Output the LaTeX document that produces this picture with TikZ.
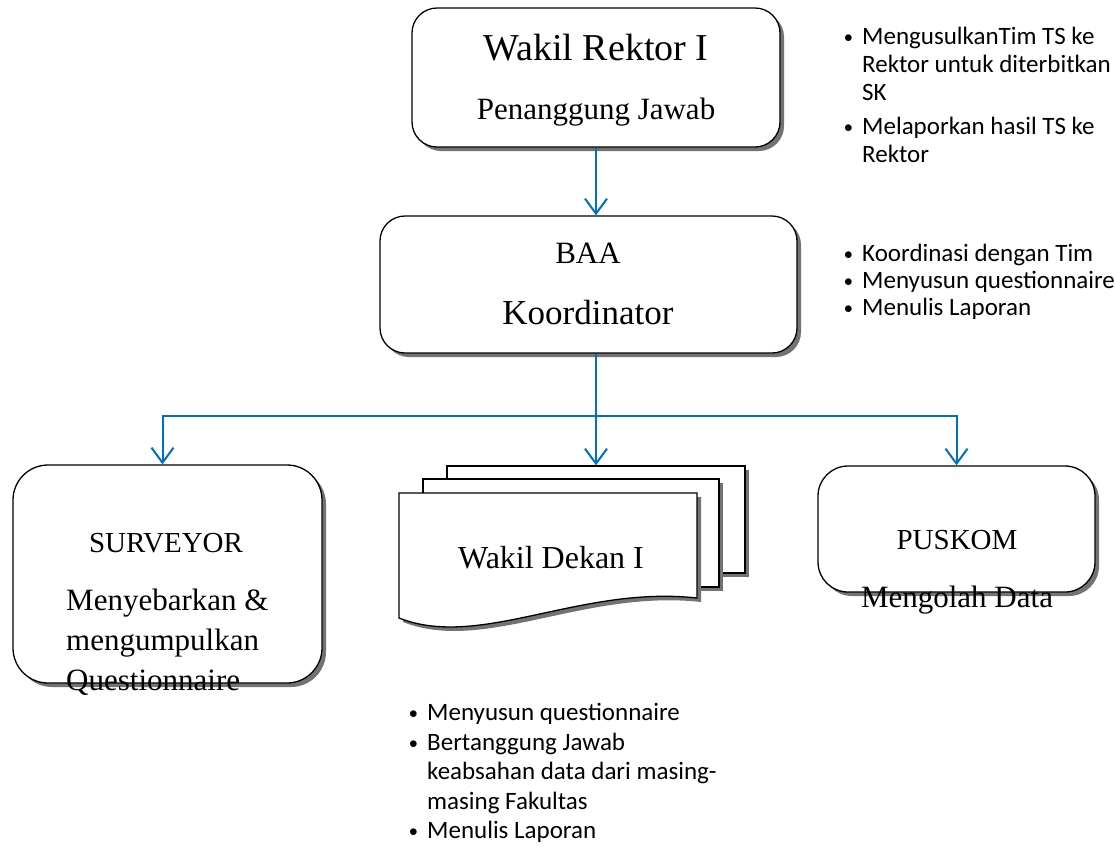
\documentclass[tikz,border=0pt]{standalone}
\usepackage{fontspec}
\setmainfont{Liberation Serif}
\newfontfamily\poinfont{Carlito}
\usetikzlibrary{arrows.meta,shadows}
\definecolor{Alur}{RGB}{0,112,192}
\tikzset{%
    Bayang/.style={%
        drop shadow={shadow xshift=4pt,shadow yshift=-4pt,
                     fill=black!55,opacity=1}
    },
    Kotak node/.style={%
        draw,
        line width=1.3pt,
        fill=white,
        rounded corners=#1,
        inner sep=0pt,
        Bayang
    },
    Kotak node/.default=25pt,
    Lembar node/.style={%
        draw,
        line width=1.3pt,
        fill=white,
        inner sep=0pt,
        Bayang
    },
    Judul node/.style={%
        font=\fontsize{#1}{#1}\selectfont,
        inner sep=0pt
    },
    Poin node/.style={%
        font=\poinfont\fontsize{25}{#1}\selectfont,
        align=left,
        anchor=north west,
        inner sep=0pt
    },
    Alur arrow/.style={%
        -{Straight Barb[length=15pt,width=22pt,line width=2pt]},
        line width=2pt,
        draw=Alur
    }
}
\newcommand{\Butir}{\makebox[18pt][l]{\raisebox{2pt}{$\scriptstyle\bullet$}}}
\newcommand{\Lanjut}{\hspace*{18pt}}

\begin{document}
\begin{tikzpicture}[x=1pt,y=-1pt]
\path[use as bounding box,fill=white] (0,0) rectangle (1115,847);

% kotak-kotak
\node[Kotak node,minimum width=368,minimum height=139] (wr) at (596,77.5) {};
\node[Kotak node,minimum width=417,minimum height=137] (baa) at (588.5,284.5) {};
\node[Kotak node=35pt,minimum width=309,minimum height=218] (sv) at (167.5,574) {};
\node[Kotak node=30pt,minimum width=277,minimum height=126] (pk) at (956.5,529) {};

% tumpukan dokumen
\node[Lembar node,minimum width=298,minimum height=107] (wd3) at (596,519.5) {};
\node[Lembar node,minimum width=296,minimum height=108] (wd2) at (571,533) {};
\draw[line width=1.3pt,fill=white,Bayang]
        (399,493) coordinate (wd1)
    --  (697,493)
    --  (697,598)
    .. controls (580,585) and (480,650) .. (399,618)
    --cycle ;

% teks
\node[Judul node=38] (wrjudul) at (596,48) {Wakil Rektor I};
\node[Judul node=31] (wrtugas) at (596,112) {Penanggung Jawab};
\node[Judul node=31] (baajudul) at (588,253) {BAA};
\node[Judul node=35] (baatugas) at (588,313) {Koordinator};
\node[Judul node=29] (svjudul) at (166,543) {SURVEYOR};
\node[font=\fontsize{31}{40}\selectfont,align=left,anchor=west,inner sep=0pt]
    (svtugas) at (66,642) {Menyebarkan \&\\mengumpulkan\\Questionnaire};
\node[Judul node=32] (wdjudul) at (551,558) {Wakil Dekan I};
\node[Judul node=29] (pkjudul) at (957,540) {PUSKOM};
\node[Judul node=31] (pktugas) at (957,600) {Mengolah Data};

% alur
\draw[Alur arrow] (wr) -- (wr |- baa.north);
\coordinate (cabang) at (596,416);
\draw[Alur arrow] (baa.south -| wd3.north) -- (wd3.north);
\draw[Alur arrow] (cabang) -| ([xshift=-5pt]sv.north);
\draw[Alur arrow] (cabang) -| (pk.north);

% poin
\node[Poin node=28] (poinwr) at (844,27)
    {\Butir MengusulkanTim TS ke\\ \Lanjut Rektor untuk diterbitkan\\
     \Lanjut SK\\[6pt] \Butir Melaporkan hasil TS ke\\ \Lanjut Rektor};
\node[Poin node=27] (poinbaa) at (844,244)
    {\Butir Koordinasi dengan Tim\\ \Butir Menyusun questionnaire\\
     \Butir Menulis Laporan};
\node[Poin node=29.5] (poinwd) at (409,703)
    {\Butir Menyusun questionnaire\\ \Butir Bertanggung Jawab\\
     \Lanjut keabsahan data dari masing-\\ \Lanjut masing Fakultas\\
     \Butir Menulis Laporan};
\end{tikzpicture}
\end{document}
